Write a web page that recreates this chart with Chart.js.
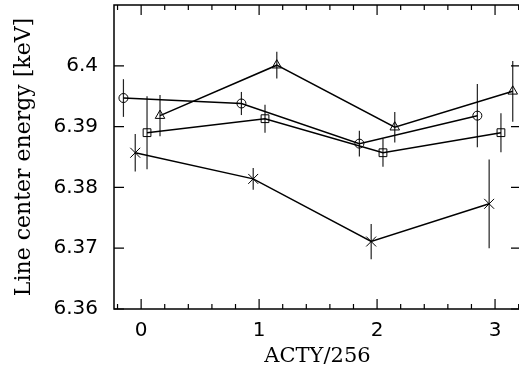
<!DOCTYPE html>
<html>
<head>
<meta charset="utf-8">
<script src="https://cdn.jsdelivr.net/npm/chart.js@4.4.1/dist/chart.umd.min.js"></script>
<style>
  html, body { margin: 0; padding: 0; background: #fff; overflow: hidden; }
  #wrap { width: 521px; height: 373px; }
</style>
</head>
<body>
<div id="wrap"><canvas id="lineChart"></canvas></div>
<script>
// data
const circleX = [-0.15, 0.85, 1.85, 2.85];
const circleY = [6.3947, 6.3938, 6.3872, 6.3918];
const circleErr = [0.0031, 0.0019, 0.0021, 0.0052];

const triangleX = [0.16, 1.15, 2.15, 3.15];
const triangleY = [6.3918, 6.4001, 6.3899, 6.3958];
const triangleErr = [0.0034, 0.0022, 0.0025, 0.0050];

const squareX = [0.05, 1.05, 2.05, 3.05];
const squareY = [6.3890, 6.3913, 6.3857, 6.3890];
const squareErr = [0.0060, 0.0023, 0.0023, 0.0032];

const crossX = [-0.05, 0.95, 1.95, 2.95];
const crossY = [6.3857, 6.3814, 6.3711, 6.3773];
const crossErr = [0.0031, 0.0018, 0.0029, 0.0073];

const xTicks = [0, 1, 2, 3];
const xTickLabels = ['0', '1', '2', '3'];
const yTicks = [6.36, 6.37, 6.38, 6.39, 6.40];
const yTickLabels = ['6.36', '6.37', '6.38', '6.39', '6.4'];

function punkte(xs, ys) {
    return xs.map((x, i) => ({ x: x, y: ys[i] }));
}

function buatSeri(xs, ys, err, gaya, radius) {
    return {
        data: punkte(xs, ys),
        err: err,
        showLine: true,
        borderColor: '#000',
        borderWidth: 1.5,
        pointStyle: gaya,
        pointRadius: radius,
        pointBorderWidth: 1,
        pointBorderColor: '#000',
        pointBackgroundColor: 'rgba(0,0,0,0)'
    };
}

// error bars + frame with inward ticks
const bingkai = {
    id: 'bingkai',
    beforeDatasetsDraw(chart) {
        const ctx = chart.ctx;
        const sx = chart.scales.x, sy = chart.scales.y;
        ctx.save();
        ctx.strokeStyle = '#222';
        ctx.lineWidth = 1.2;
        chart.data.datasets.forEach(ds => {
            ds.data.forEach((p, i) => {
                const px = sx.getPixelForValue(p.x);
                ctx.beginPath();
                ctx.moveTo(px, sy.getPixelForValue(p.y - ds.err[i]));
                ctx.lineTo(px, sy.getPixelForValue(p.y + ds.err[i]));
                ctx.stroke();
            });
        });
        ctx.restore();
    },
    afterDraw(chart) {
        const ctx = chart.ctx;
        const a = chart.chartArea;
        const sx = chart.scales.x, sy = chart.scales.y;
        ctx.save();
        ctx.strokeStyle = '#000';
        ctx.lineWidth = 1.5;
        ctx.strokeRect(a.left, a.top, a.right - a.left, a.bottom - a.top);
        ctx.lineWidth = 1.2;
        ctx.beginPath();
        for (let k = -1; k <= 16; k++) {
            const v = k * 0.2;
            const px = sx.getPixelForValue(v);
            if (px < a.left || px > a.right) continue;
            const len = (k % 5 === 0) ? 10 : 5;
            ctx.moveTo(px, a.bottom); ctx.lineTo(px, a.bottom - len);
            ctx.moveTo(px, a.top); ctx.lineTo(px, a.top + len);
        }
        yTicks.forEach(v => {
            const py = sy.getPixelForValue(v);
            ctx.moveTo(a.left, py); ctx.lineTo(a.left + 10, py);
            ctx.moveTo(a.right, py); ctx.lineTo(a.right - 10, py);
        });
        ctx.stroke();
        ctx.restore();
    }
};

const ctx = document.getElementById('lineChart').getContext('2d');
new Chart(ctx, {
    type: 'scatter',
    data: {
        datasets: [
            buatSeri(circleX, circleY, circleErr, 'circle', 4.5),
            buatSeri(triangleX, triangleY, triangleErr, 'triangle', 5.5),
            buatSeri(squareX, squareY, squareErr, 'rect', 5.5),
            buatSeri(crossX, crossY, crossErr, 'crossRot', 7)
        ]
    },
    options: {
        responsive: true,
        maintainAspectRatio: false,
        animation: false,
        layout: { padding: { top: 5, right: 0, left: 0, bottom: 0 }, autoPadding: false },
        plugins: { legend: { display: false }, tooltip: { enabled: false } },
        scales: {
            x: {
                type: 'linear',
                min: -0.23,
                max: 3.22,
                grid: { display: false, drawTicks: false },
                border: { display: false },
                afterBuildTicks: s => { s.ticks = xTicks.map(v => ({ value: v })); },
                afterFit: s => { s.height = 64; s.paddingLeft = 0; s.paddingRight = 0; },
                ticks: {
                    color: '#000',
                    padding: 10,
                    font: { family: 'DejaVu Sans', size: 20 },
                    callback: (v) => xTickLabels[xTicks.indexOf(v)]
                },
                title: {
                    display: true,
                    text: 'ACTY/256',
                    color: '#000',
                    font: { family: 'DejaVu Serif', size: 21 },
                    padding: { top: 0, bottom: 4 }
                }
            },
            y: {
                type: 'linear',
                min: 6.36,
                max: 6.41,
                grid: { display: false, drawTicks: false },
                border: { display: false },
                afterBuildTicks: s => { s.ticks = yTicks.map(v => ({ value: v })); },
                afterFit: s => { s.width = 114; s.paddingTop = 0; s.paddingBottom = 0; },
                ticks: {
                    color: '#000',
                    padding: 16,
                    font: { family: 'DejaVu Sans', size: 20 },
                    callback: (v) => yTickLabels[yTicks.findIndex(t => Math.abs(t - v) < 1e-6)]
                },
                title: {
                    display: true,
                    text: 'Line center energy [keV]',
                    color: '#000',
                    font: { family: 'DejaVu Serif', size: 22 },
                    padding: { top: 11, bottom: 0 }
                }
            }
        }
    },
    plugins: [bingkai]
});
</script>
</body>
</html>
